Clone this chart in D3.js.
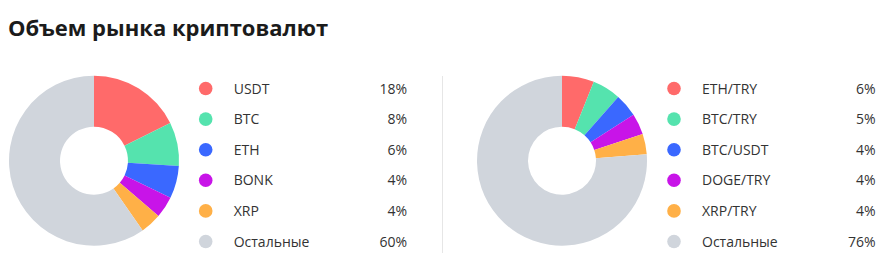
<!DOCTYPE html>
<html>
<head>
    <meta charset="utf-8">
    <title>Объем рынка криптовалют</title>
    <script src="https://d3js.org/d3.v7.min.js"></script>
    <style>
        body { margin: 0; background: #fff; font-family: "Open Sans", "Noto Sans", sans-serif; }
        .title { font-weight: 700; font-size: 22px; fill: #1b1b1b; }
        .legend text { font-size: 14px; fill: #333; }
    </style>
</head>
<body>
    <div id="chart"></div>
    <script>
        // left chart: currencies
        const coinLabels = ["USDT", "BTC", "ETH", "BONK", "XRP", "Остальные"];
        const coinValues = [17.7, 8.3, 6.2, 4.1, 4.0, 59.7];
        // right chart: trading pairs
        const pairLabels = ["ETH/TRY", "BTC/TRY", "BTC/USDT", "DOGE/TRY", "XRP/TRY", "Остальные"];
        const pairValues = [6.1, 5.4, 4.4, 4.0, 3.9, 76.2];
        const sliceColors = ["#ff6a6a", "#55e3ae", "#3a68ff", "#c814e8", "#ffb047", "#d0d5dc"];

        const width = 894, height = 269;

        const svg = d3.select("#chart")
            .append("svg")
            .attr("width", width)
            .attr("height", height);

        svg.append("text")
            .attr("class", "title")
            .attr("x", 8)
            .attr("y", 36)
            .text("Объем рынка криптовалют");

        const pie = d3.pie().sort(null).value(d => d);
        const arc = d3.arc().innerRadius(34).outerRadius(85);

        const drawDonut = (labels, values, cx, cy, legendX, valueX) => {
            const g = svg.append("g").attr("transform", `translate(${cx},${cy})`);
            g.selectAll("path")
                .data(pie(values))
                .join("path")
                .attr("d", arc)
                .attr("fill", (d, i) => sliceColors[i]);

            const rowY = d3.scalePoint().domain(labels).range([88.5, 241.5]);
            const legend = svg.append("g").attr("class", "legend");
            const rows = legend.selectAll("g")
                .data(labels)
                .join("g")
                .attr("transform", d => `translate(0,${rowY(d)})`);
            rows.append("circle")
                .attr("cx", legendX)
                .attr("r", 6.8)
                .attr("fill", (d, i) => sliceColors[i]);
            rows.append("text")
                .attr("x", legendX + 28)
                .attr("dy", "0.36em")
                .text(d => d);
            rows.append("text")
                .attr("x", valueX)
                .attr("dy", "0.36em")
                .attr("text-anchor", "end")
                .text((d, i) => Math.round(values[i]) + "%");
        };

        drawDonut(coinLabels, coinValues, 94, 160.7, 205.7, 407);
        drawDonut(pairLabels, pairValues, 562, 160.7, 674, 875.5);

        // divider between the two charts
        svg.append("line")
            .attr("x1", 442.5).attr("x2", 442.5)
            .attr("y1", 76).attr("y2", 253)
            .attr("stroke", "#e6e6e6")
            .attr("stroke-width", 1);
    </script>
</body>
</html>
